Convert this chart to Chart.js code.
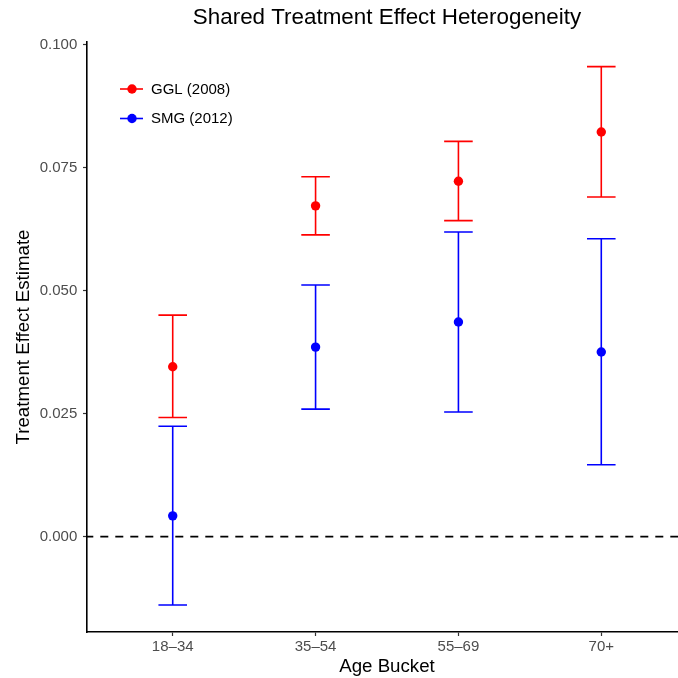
<!DOCTYPE html>
<html>
<head>
    <title>Shared Treatment Effect Heterogeneity</title>
    <style>
        html, body { margin: 0; padding: 0; overflow: hidden; background: #fff; }
        /* plot panel runs a few px past the right edge, as in the original */
        #wrap { width: 687px; height: 678px; }
    </style>
    <script src="https://cdn.jsdelivr.net/npm/chart.js"></script>
</head>
<body>
    <div id="wrap"><canvas id="myChart" width="687" height="678"></canvas></div>

    <script>
        // data
        const ageBuckets = ['18\u201334', '35\u201354', '55\u201369', '70+'];
        const yTicks = [0, 0.025, 0.05, 0.075, 0.1];

        const gglEst   = [0.0345, 0.0672, 0.0722, 0.0822];
        const gglLower = [0.0242, 0.0613, 0.0642, 0.0690];
        const gglUpper = [0.0450, 0.0731, 0.0803, 0.0955];

        const smgEst   = [0.0042, 0.0385, 0.0436, 0.0375];
        const smgLower = [-0.0139, 0.0259, 0.0253, 0.0146];
        const smgUpper = [0.0224, 0.0511, 0.0619, 0.0605];

        const series = [
            { label: 'GGL (2008)', color: '#ff0000', est: gglEst, lo: gglLower, hi: gglUpper },
            { label: 'SMG (2012)', color: '#0000ff', est: smgEst, lo: smgLower, hi: smgUpper }
        ];

        const FONT = "'Liberation Sans', Arial, sans-serif";

        // error bars + dashed zero line, drawn under the points
        const errorBars = {
            id: 'errorBars',
            beforeDatasetsDraw(chart) {
                const { ctx, chartArea, scales: { x, y } } = chart;
                ctx.save();
                // zero reference line
                ctx.strokeStyle = '#000';
                ctx.lineWidth = 1.8;
                ctx.setLineDash([8, 7]);
                ctx.lineDashOffset = 1.7;
                ctx.beginPath();
                ctx.moveTo(chartArea.left, y.getPixelForValue(0));
                ctx.lineTo(chartArea.right, y.getPixelForValue(0));
                ctx.stroke();
                ctx.setLineDash([]);

                series.forEach(s => {
                    ctx.strokeStyle = s.color;
                    ctx.lineWidth = 1.6;
                    s.est.forEach((v, i) => {
                        const cx = x.getPixelForValue(i + 1);
                        const x0 = x.getPixelForValue(i + 0.9);
                        const x1 = x.getPixelForValue(i + 1.1);
                        const yLo = y.getPixelForValue(s.lo[i]);
                        const yHi = y.getPixelForValue(s.hi[i]);
                        ctx.beginPath();
                        ctx.moveTo(cx, yLo); ctx.lineTo(cx, yHi);
                        ctx.moveTo(x0, yLo); ctx.lineTo(x1, yLo);
                        ctx.moveTo(x0, yHi); ctx.lineTo(x1, yHi);
                        ctx.stroke();
                    });
                });
                ctx.restore();
            },
            // legend sits inside the panel, top left
            afterDraw(chart) {
                const { ctx, chartArea } = chart;
                ctx.save();
                series.forEach((s, k) => {
                    const ly = 89 + k * 29.5;
                    const lx = chartArea.left + 45;
                    ctx.strokeStyle = s.color;
                    ctx.lineWidth = 1.6;
                    ctx.beginPath();
                    ctx.moveTo(lx - 12, ly); ctx.lineTo(lx + 11, ly);
                    ctx.stroke();
                    ctx.fillStyle = s.color;
                    ctx.beginPath();
                    ctx.arc(lx, ly, 4.7, 0, Math.PI * 2);
                    ctx.fill();
                    ctx.fillStyle = '#000';
                    ctx.font = '15px ' + FONT;
                    ctx.textBaseline = 'middle';
                    ctx.fillText(s.label, lx + 19, ly + 0.5);
                });
                ctx.restore();
            }
        };

        const ctx = document.getElementById('myChart').getContext('2d');
        const myChart = new Chart(ctx, {
            type: 'scatter',
            data: {
                datasets: series.map(s => ({
                    label: s.label,
                    data: s.est.map((v, i) => ({ x: i + 1, y: v })),
                    backgroundColor: s.color,
                    borderColor: s.color,
                    borderWidth: 0,
                    pointRadius: 4.7,
                    pointHoverRadius: 4.7
                }))
            },
            options: {
                responsive: false,
                animation: false,
                layout: { padding: 0, autoPadding: false },
                plugins: {
                    legend: { display: false },
                    tooltip: { enabled: false },
                    title: {
                        display: true,
                        text: 'Shared Treatment Effect Heterogeneity',
                        fullSize: false,
                        color: '#000',
                        font: { family: FONT, size: 22.4, weight: 'normal' },
                        padding: { top: 4.7, bottom: 10.4 }
                    }
                },
                scales: {
                    x: {
                        type: 'linear',
                        min: 0.4,
                        max: 4.6,
                        afterBuildTicks: axis => { axis.ticks = ageBuckets.map((c, i) => ({ value: i + 1 })); },
                        afterFit: axis => { axis.height = 46; },
                        ticks: {
                            callback: v => ageBuckets[v - 1],
                            color: '#4d4d4d',
                            font: { family: FONT, size: 15 },
                            padding: 2,
                            maxRotation: 0
                        },
                        grid: { drawOnChartArea: false, tickLength: 4, tickColor: '#333', tickWidth: 1.2 },
                        border: { color: '#000', width: 1.6 },
                        title: {
                            display: true,
                            text: 'Age Bucket',
                            color: '#000',
                            font: { family: FONT, size: 18.7 },
                            padding: { top: 0, bottom: 0 }
                        }
                    },
                    y: {
                        min: -0.0194,
                        max: 0.1005,
                        afterBuildTicks: axis => { axis.ticks = yTicks.map(v => ({ value: v })); },
                        afterFit: axis => { axis.width = 87; },
                        ticks: {
                            callback: v => v.toFixed(3),
                            color: '#4d4d4d',
                            font: { family: FONT, size: 15 },
                            padding: 5.7
                        },
                        grid: { drawOnChartArea: false, tickLength: 4, tickColor: '#333', tickWidth: 1.2 },
                        border: { color: '#000', width: 1.6 },
                        title: {
                            display: true,
                            text: 'Treatment Effect Estimate',
                            color: '#000',
                            font: { family: FONT, size: 18.7 },
                            padding: { top: 12.3, bottom: 0 }
                        }
                    }
                }
            },
            plugins: [errorBars]
        });
    </script>
</body>
</html>
